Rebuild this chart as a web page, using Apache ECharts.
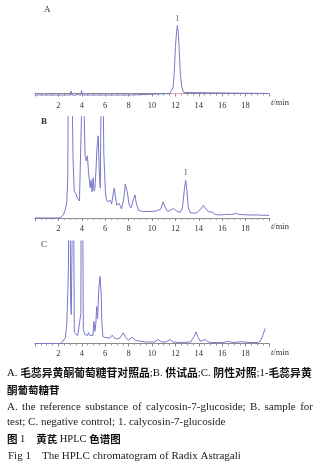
<!DOCTYPE html>
<html><head><meta charset="utf-8">
<script src="https://cdn.jsdelivr.net/npm/echarts@6/dist/echarts.min.js"></script>
<style>html,body{margin:0;padding:0;background:#fff}#c{width:330px;height:464px}</style>
</head><body><div id="c"></div>
<script>
// time axis (min)
const xTicks = [0,2,4,6,8,10,12,14,16,18,20];
// A: reference substance (signal above baseline, arbitrary units)
const seriesA = [[0,-1.5],[3.0,-1.5],[3.08,2.5],[3.15,-1.5],[3.25,-2],[3.4,-1.8],[3.5,-0.7],[3.6,-0.7],[3.72,-1.5],[3.9,-1.8],[3.98,3],[4.05,-1.5],[4.2,-1.5],[8.25,-1.5],[8.35,0],[11.5,0],[11.65,1],[11.8,6],[11.9,20],[12.0,46],[12.1,62],[12.17,68],[12.25,60],[12.32,45],[12.42,20],[12.55,6],[12.7,1],[12.85,0],[20,0]];
const integA = [[11.62,0],[12.76,0]];
// B: sample for test
const seriesB = [[0,0],[2.1,0],[2.3,1.5],[2.45,4],[2.6,9],[2.72,16],[2.8,40],[2.88,200],[2.95,400],[3.05,300],[3.15,150],[3.25,60],[3.35,27],[3.5,24],[3.65,19],[3.8,17],[3.9,16],[3.97,100],[4.03,300],[4.1,250],[4.18,120],[4.28,62],[4.38,57],[4.48,62],[4.58,45],[4.66,36],[4.72,30],[4.8,38],[4.88,26],[4.97,40],[5.05,27],[5.12,30],[5.2,45],[5.3,70],[5.4,82],[5.5,45],[5.58,30],[5.65,120],[5.72,250],[5.8,150],[5.88,65],[5.95,45],[6.02,25],[6.12,18],[6.25,16],[6.41,18],[6.55,14],[6.7,25],[6.78,30],[6.88,20],[6.98,13],[7.1,14],[7.2,14.5],[7.4,9],[7.6,20],[7.72,34],[7.8,35],[7.9,25],[8.05,13],[8.2,10],[8.4,18],[8.55,23],[8.65,15],[8.85,7.5],[9.2,6.5],[9.8,6.5],[10.4,7],[10.75,9],[10.95,16],[11.1,11],[11.35,6.5],[11.6,8],[11.82,9.5],[12.1,7],[12.4,5.5],[12.6,10],[12.78,30],[12.88,37.5],[12.98,28],[13.1,10],[13.3,5],[13.8,5],[14.1,8],[14.4,12.5],[14.6,9],[14.85,6],[15.1,6],[15.4,3.5],[15.8,3],[16.3,3.5],[16.8,3.5],[17.1,4.5],[17.5,3.5],[18.2,3],[19,3],[20,2.5]];
// C: negative control
const seriesC = [[0,0],[2.1,0],[2.3,1],[2.45,2.5],[2.6,6],[2.72,20],[2.8,50],[2.86,77],[2.92,300],[2.98,200],[3.05,40],[3.1,29],[3.17,100],[3.25,300],[3.3,150],[3.36,11],[3.5,9],[3.65,8],[3.8,7],[3.92,30],[3.98,300],[4.05,200],[4.13,14],[4.25,9],[4.4,11],[4.5,8],[4.56,11],[4.7,8],[4.84,10],[4.95,8],[5.04,22],[5.12,12],[5.2,20],[5.27,37],[5.35,25],[5.45,54],[5.56,67],[5.65,51],[5.72,20],[5.8,7],[5.98,6],[6.12,5],[6.4,5.5],[6.6,8.3],[6.75,6],[6.98,4.5],[7.3,6],[7.55,10.7],[7.75,6],[7.98,3.5],[8.32,6.3],[8.6,3],[8.75,2],[9.5,1.5],[10.2,1.5],[10.54,4],[10.8,1.5],[11.2,1.5],[11.54,4],[11.8,1.5],[12.5,1],[13.3,1.5],[13.6,7],[13.76,11.5],[13.9,7],[14.1,2.5],[14.35,3],[14.53,4],[14.75,2],[15,1],[16,1],[16.5,2],[17,1],[17.66,1.8],[18.3,1],[19.05,1],[19.3,3],[19.5,9],[19.66,15]];
const peakA = [12.17, 68];
const peakB = [12.88, 37.5];
const panelLabels = ['A','B','C'];
const captionLines = {
  cn1: ['A. ','毛蕊异黄酮葡萄糖苷对照品',';B. ','供试品',';C. ','阴性对照',';1-','毛蕊异黄'],
  cn2: '酮葡萄糖苷',
  en1: 'A. the reference substance of calycosin-7-glucoside; B. sample for',
  en2: 'test; C. negative control; 1. calycosin-7-glucoside',
  fig: ['图 1','黄芪',' HPLC ','色谱图'],
  figEn: 'Fig 1\u3000The HPLC chromatogram of Radix Astragali'
};

const LINE = '#7878c8';
const SERIF = '"Liberation Serif","DejaVu Serif",serif';
const CJK = '"Noto Sans CJK SC",sans-serif';

const grids = [
  {left:35, right:61, top:10, bottom:464-98.5},
  {left:35, right:61, top:116.7, bottom:464-221.7},
  {left:35, right:61, top:241, bottom:464-346}
];
const yRanges = [[-5, 83.5],[-3.7, 101],[-2.5, 102.5]];

function xAxis(i){
  return {
    type:'value', gridIndex:i, min:0, max:20, interval:2,
    axisLine:{show:true, lineStyle:{color:'#8a8a8a', width:1}},
    axisTick:{show:true, length:3, lineStyle:{color:'#8a8a8a'}},
    minorTick:{show:true, splitNumber:4, length:2, lineStyle:{color:'#9a9a9a'}},
    splitLine:{show:false},
    axisLabel:{margin:3, fontSize:8.5, color:'#333', fontFamily:SERIF,
      formatter: v => (v===0||v===20) ? '' : String(v)},
    name:'{i|t}/min', nameLocation:'end', nameGap:2,
    nameTextStyle:{fontSize:8.5, color:'#333', fontFamily:SERIF, padding:[18,0,0,0],
      rich:{i:{fontStyle:'italic', fontSize:8.5, fontFamily:SERIF, color:'#333'}}}
  };
}
function yAxis(i){
  return {type:'value', gridIndex:i, min:yRanges[i][0], max:yRanges[i][1], show:false, splitLine:{show:false}};
}
function peakMark(coord){
  return {symbol:'circle', symbolSize:0, silent:true,
    label:{show:true, formatter:'1', position:'top', distance:3, fontSize:8, color:'#555', fontFamily:SERIF},
    data:[{coord:coord}]};
}

// justify a line of words between x0 and x1 (layout only)
const mctx = document.createElement('canvas').getContext('2d');
function justified(text, font, x0, x1, y, fill){
  mctx.font = font;
  const words = text.split(' ');
  const widths = words.map(w => mctx.measureText(w).width);
  const total = widths.reduce((a,b)=>a+b,0);
  const gap = (x1 - x0 - total) / (words.length - 1);
  let x = x0;
  return words.map((w,k) => {
    const el = {type:'text', x:x, y:y, style:{text:w, font:font, fill:fill, verticalAlign:'middle'}};
    x += widths[k] + gap;
    return el;
  });
}

const chart = echarts.init(document.getElementById('c'), null, {renderer:'canvas'});
chart.setOption({
  animation:false,
  grid: grids,
  xAxis: [0,1,2].map(xAxis),
  yAxis: [0,1,2].map(yAxis),
  series: [
    {type:'line', xAxisIndex:0, yAxisIndex:0, data:seriesA, symbol:'none', lineStyle:{color:LINE, width:1}, markPoint:peakMark(peakA)},
    {type:'line', xAxisIndex:0, yAxisIndex:0, data:integA, symbol:'none', lineStyle:{color:'#f29aa6', width:1}},
    {type:'line', xAxisIndex:1, yAxisIndex:1, data:seriesB, symbol:'none', lineStyle:{color:LINE, width:1}, markPoint:peakMark(peakB)},
    {type:'line', xAxisIndex:2, yAxisIndex:2, data:seriesC, symbol:'none', lineStyle:{color:LINE, width:1}}
  ],
  graphic: [
    {type:'text', left:44, top:5, style:{text:panelLabels[0], font:'9px '+SERIF, fill:'#333'}},
    {type:'text', left:41, top:117, style:{text:panelLabels[1], font:'bold 9px '+SERIF, fill:'#333'}},
    {type:'text', left:41, top:240, style:{text:panelLabels[2], font:'9px '+SERIF, fill:'#333'}},
    {type:'text', x:7, y:373, style:{
      text: captionLines.cn1.map((s,k)=> (k%2? '{h|'+s+'}' : '{s|'+s+'}')).join(''),
      verticalAlign:'middle',
      rich:{h:{fontFamily:CJK, fontWeight:'bold', fontSize:10.8, fill:'#111'}, s:{fontFamily:SERIF, fontSize:10.8, fill:'#111'}}
    }},
    {type:'text', x:7, y:390, style:{text:captionLines.cn2, font:'bold 10.5px '+CJK, fill:'#111', verticalAlign:'middle'}},
    ...justified(captionLines.en1, '11px '+SERIF, 7, 313, 406.7, '#222'),
    {type:'text', x:7, y:422.3, style:{text:captionLines.en2, font:'11px '+SERIF, fill:'#222', verticalAlign:'middle'}},
    {type:'text', x:7, y:439, style:{
      text:'{h|'+captionLines.fig[0].replace('1','')+'}{s|1}{g|\u3000}{h|'+captionLines.fig[1]+'}{s|'+captionLines.fig[2]+'}{h|'+captionLines.fig[3]+'}',
      verticalAlign:'middle',
      rich:{h:{fontFamily:CJK, fontWeight:'bold', fontSize:10.5, fill:'#111'}, s:{fontFamily:SERIF, fontSize:10.5, fill:'#111'}, g:{fontSize:10.5}}
    }},
    {type:'text', x:8, y:455.7, style:{text:captionLines.figEn, font:'11px '+SERIF, fill:'#222', verticalAlign:'middle'}}
  ]
});
</script></body></html>
